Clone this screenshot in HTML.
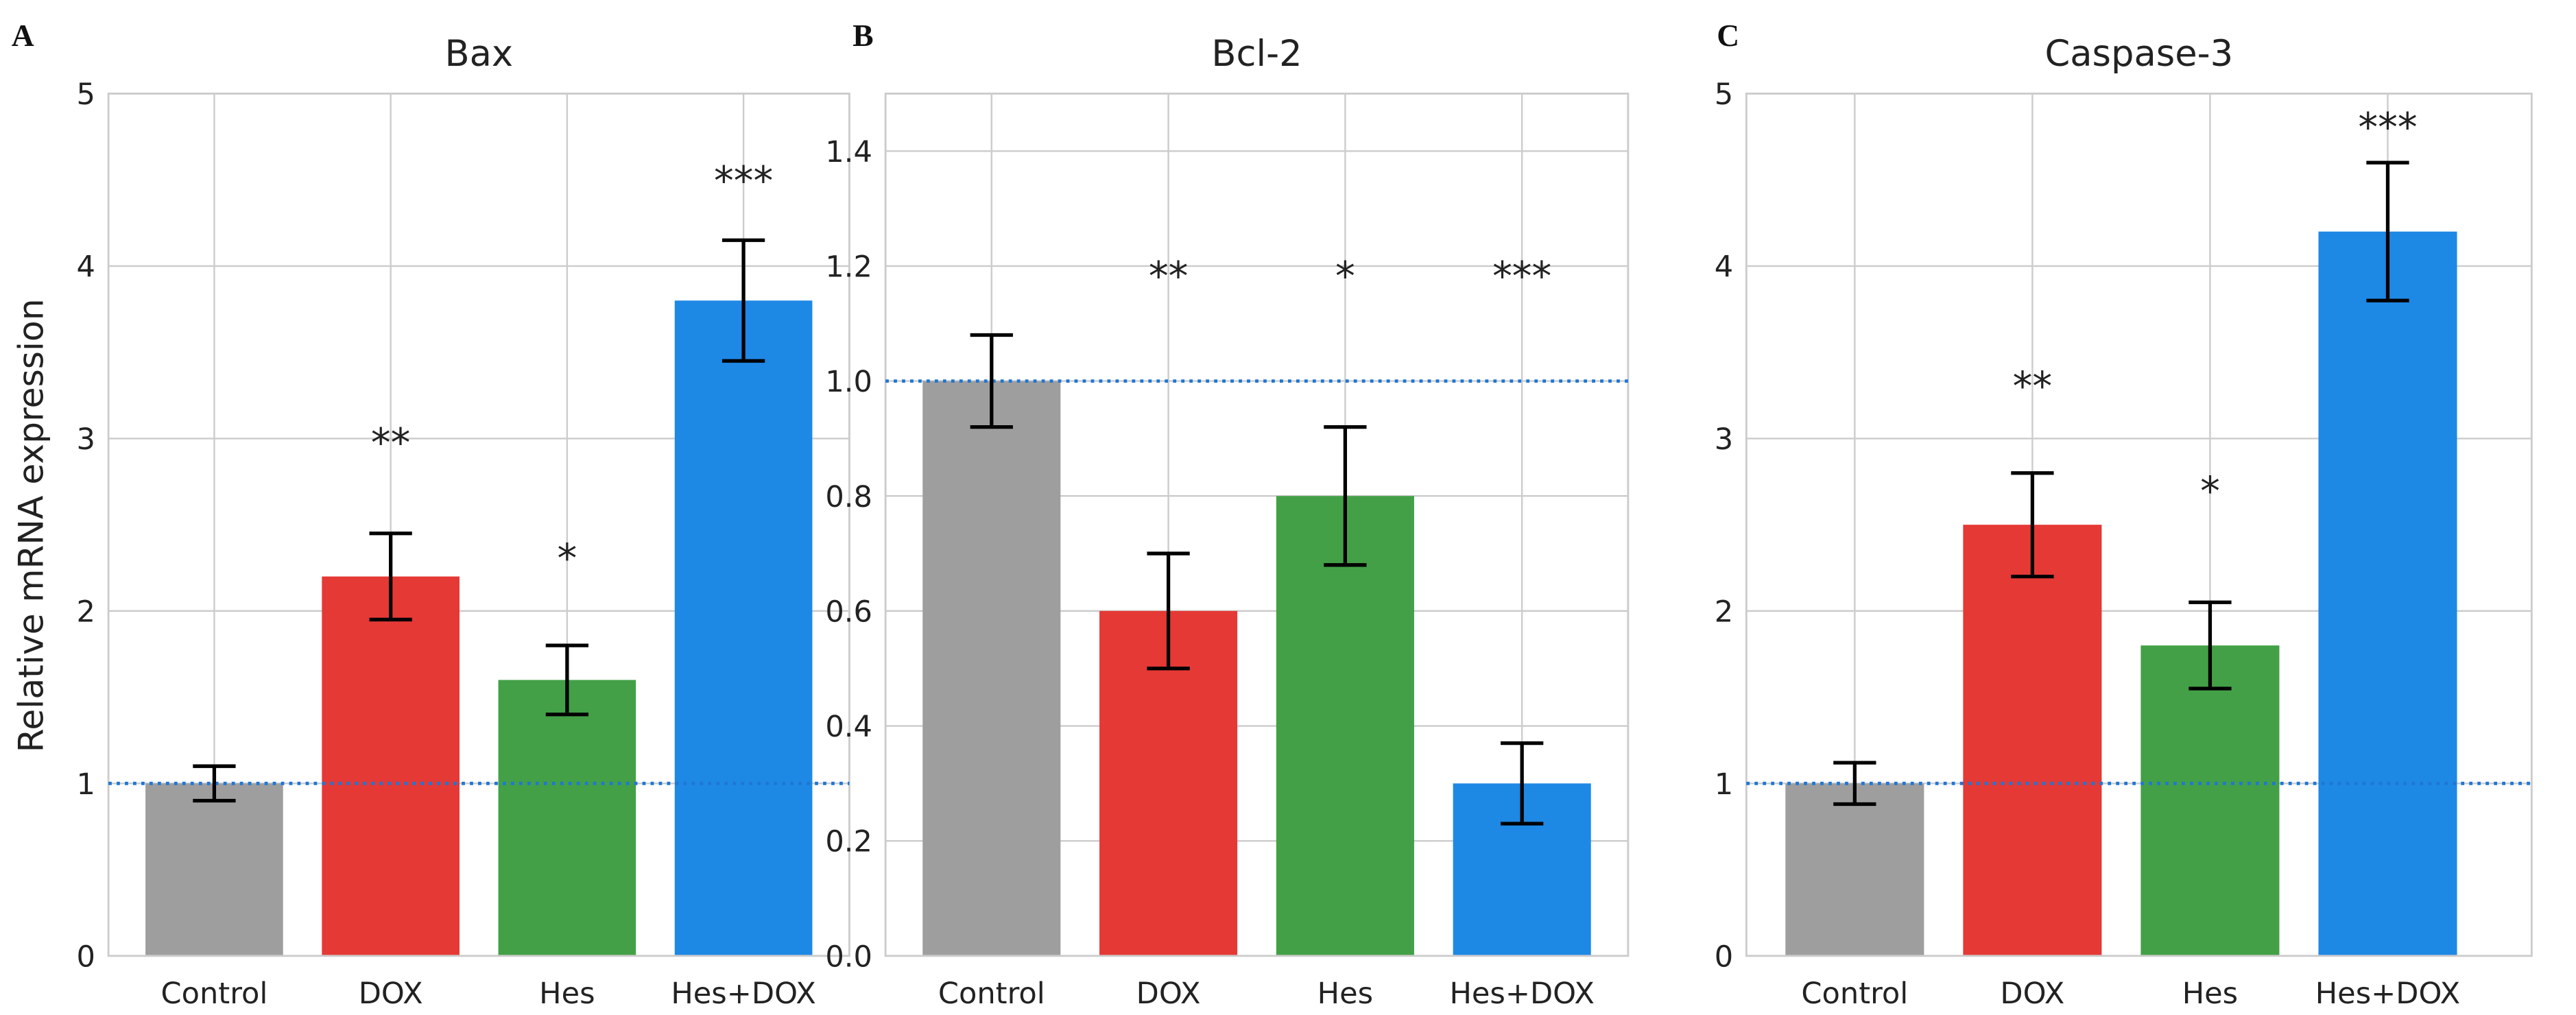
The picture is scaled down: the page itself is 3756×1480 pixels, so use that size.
<!DOCTYPE html>
<html><head><meta charset="utf-8"><style>
html,body{margin:0;padding:0;background:#fff;}
svg{display:block;font-family:"DejaVu Sans","Liberation Sans",sans-serif;}
</style></head><body>
<svg id="fig" width="3756" height="1480" viewBox="0 0 1568 618" preserveAspectRatio="none" xmlns="http://www.w3.org/2000/svg"></svg>
<script>
const categories = ["Control","DOX","Hes","Hes+DOX"];
const colors = ["#9e9e9e","#e53935","#43a047","#1e88e5"];
const baxValues = [1.0, 2.2, 1.6, 3.8];
const baxErrors = [0.1, 0.25, 0.2, 0.35];
const baxStars = ["", "**", "*", "***"];
const baxStarY = [0, 3.0, 2.33, 4.52];
const baxTicks = ["0","1","2","3","4","5"];
const bclValues = [1.0, 0.6, 0.8, 0.3];
const bclErrors = [0.08, 0.1, 0.12, 0.07];
const bclStars = ["", "**", "*", "***"];
const bclStarY = [0, 1.19, 1.19, 1.19];
const bclTicks = ["0.0","0.2","0.4","0.6","0.8","1.0","1.2","1.4"];
const casValues = [1.0, 2.5, 1.8, 4.2];
const casErrors = [0.12, 0.3, 0.25, 0.4];
const casStars = ["", "**", "*", "***"];
const casStarY = [0, 3.33, 2.72, 4.83];
const casTicks = ["0","1","2","3","4","5"];

const svg = document.getElementById('fig');
const NS = "http://www.w3.org/2000/svg";
function mk(tag, attrs, parent){
  const e = document.createElementNS(NS, tag);
  for (const k in attrs) e.setAttribute(k, attrs[k]);
  (parent||svg).appendChild(e); return e;
}
function panel(o){
  const g = mk('g', {});
  
  
  const sx = v => o.x0 + (v - o.xmin) / (o.xmax - o.xmin) * (o.x1 - o.x0);
  const sy = v => o.y1 - v / o.ymax * (o.y1 - o.y0);
  // grid
  o.ticks.forEach(t => {
    const v = parseFloat(t);
    const l = mk('line', {x1:o.x0, x2:o.x1, y1:sy(v), y2:sy(v), stroke:'#cccccc', 'stroke-width':1}, g);
    
    
    const tx = mk('text', {x:o.x0-8, y:sy(v)+6.5, 'text-anchor':'end', 'font-size':18, fill:'#222'}, g);
    tx.textContent = t;
    
    
  });
  categories.forEach((c, i) => {
    const l = mk('line', {x1:sx(i), x2:sx(i), y1:o.y0, y2:o.y1, stroke:'#cccccc', 'stroke-width':1}, g);
    
    
  });
  // bars
  const bw = 0.78;
  categories.forEach((c, i) => {
    const v = o.values[i];
    const r = mk('rect', {x:sx(i-bw/2), y:sy(v), width:sx(i+bw/2)-sx(i-bw/2), height:sy(0)-sy(v), fill:colors[i]}, g);
    
    
  });
  // frame
  const f = mk('rect', {x:o.x0, y:o.y0, width:o.x1-o.x0, height:o.y1-o.y0, fill:'none', stroke:'#cccccc', 'stroke-width':1.2}, g);
  
  
  // reference line
  const rl = mk('line', {x1:o.x0, x2:o.x1, y1:sy(1), y2:sy(1), stroke:'#1f77d4', 'stroke-width':2, 'stroke-dasharray':'2 3'}, g);
  
  
  // error bars & stars
  categories.forEach((c, i) => {
    const v = o.values[i], e = o.errors[i], cx = sx(i);
    const eb = mk('path', {d:`M${cx},${sy(v+e)}V${sy(v-e)}M${cx-13},${sy(v+e)}H${cx+13}M${cx-13},${sy(v-e)}H${cx+13}`, stroke:'#000', 'stroke-width':2.2, fill:'none'}, g);
    
    
    if (o.stars[i]) {
      const s = mk('text', {x:cx, y:sy(o.starY[i])+11, 'text-anchor':'middle', 'font-size':24, fill:'#222'}, g);
      s.textContent = o.stars[i];
      
      
    }
    const xl = mk('text', {x:cx, y:o.y1+29, 'text-anchor':'middle', 'font-size':18, fill:'#222'}, g);
    xl.textContent = c;
    
    
  });
  const t = mk('text', {x:(o.x0+o.x1)/2, y:40, 'text-anchor':'middle', 'font-size':22, fill:'#222'}, g);
  t.textContent = o.title;
  
  
  const L = mk('text', {x:o.lx, y:28, 'font-size':19, 'font-weight':'bold', 'font-family':'"Liberation Serif",serif', fill:'#111'}, g);
  L.textContent = o.letter;
  
  
}
panel({name:'panel-bax', title:'Bax', letter:'A', lx:7, x0:66, x1:517, y0:57, y1:582, xmin:-0.6, xmax:3.6, ymax:5, ticks:baxTicks, values:baxValues, errors:baxErrors, stars:baxStars, starY:baxStarY});
panel({name:'panel-bcl2', title:'Bcl-2', letter:'B', lx:519, x0:539, x1:991, y0:57, y1:582, xmin:-0.6, xmax:3.6, ymax:1.5, ticks:bclTicks, values:bclValues, errors:bclErrors, stars:bclStars, starY:bclStarY});
panel({name:'panel-caspase3', title:'Caspase-3', letter:'C', lx:1045, x0:1063, x1:1541, y0:57, y1:582, xmin:-0.61, xmax:3.81, ymax:5, ticks:casTicks, values:casValues, errors:casErrors, stars:casStars, starY:casStarY});
const yl = mk('text', {x:0, y:0, transform:'translate(26,320) rotate(-90)', 'text-anchor':'middle', 'font-size':21, fill:'#222'});
yl.textContent = 'Relative mRNA expression';


</script>
</body></html>
